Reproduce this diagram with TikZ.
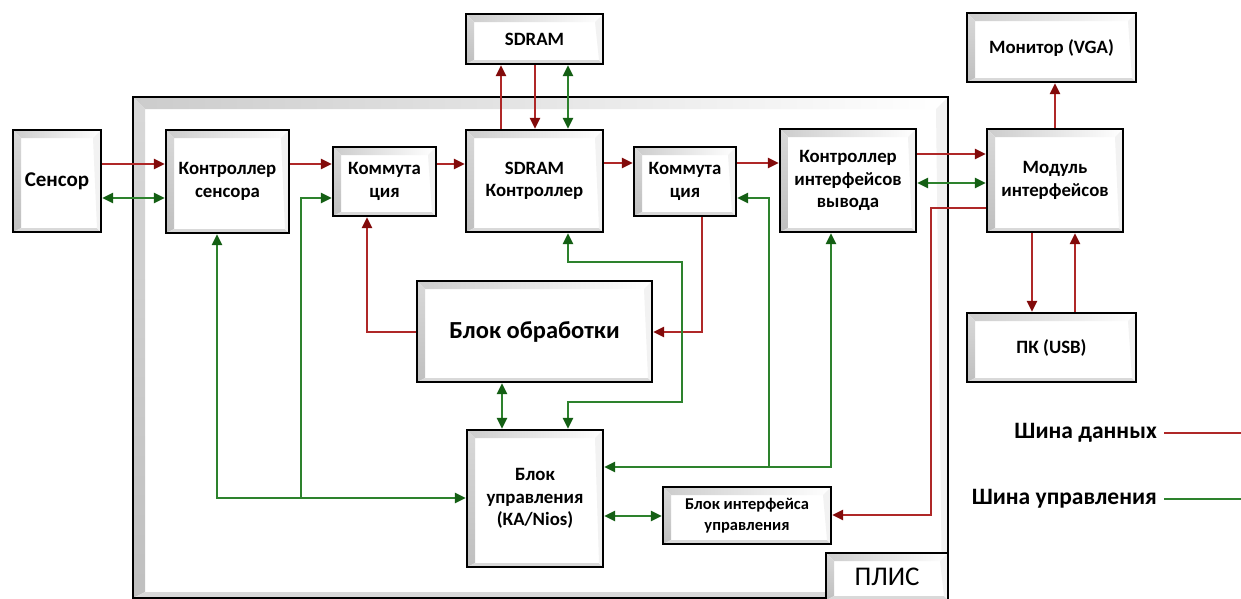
\documentclass[tikz,border=0pt]{standalone}
\usepackage{fontspec}
\setmainfont{Carlito}
\usetikzlibrary{arrows.meta}
\definecolor{lnR}{RGB}{175,40,40}
\definecolor{arR}{RGB}{130,10,10}
\definecolor{lnG}{RGB}{45,130,45}
\definecolor{arG}{RGB}{20,95,20}
\tikzset{
 Rt/.tip={Triangle[length=11pt,width=10pt,color=arR]},
 Gt/.tip={Triangle[length=11pt,width=10pt,color=arG]},
 dat/.style={draw=lnR, line width=2.5pt},
 ctl/.style={draw=lnG, line width=2.5pt},
 blk/.style={draw=black, line width=2.2pt, inner sep=0pt, align=center},
 fA/.style={font=\bfseries\fontsize{18.8}{22.5}\selectfont},
 fS/.style={font=\bfseries\fontsize{21}{22}\selectfont},
 fB/.style={font=\bfseries\fontsize{24.5}{26}\selectfont},
 fC/.style={font=\bfseries\fontsize{16.5}{21}\selectfont},
 fP/.style={font=\fontsize{27}{28}\selectfont},
 lgd/.style={font=\bfseries\fontsize{23.5}{26}\selectfont, inner sep=0pt},
}
% bevel: depth x1 y1 x2 y2
\newcommand\bvl[5]{%
 \fill[white] (#2,#3) rectangle (#4,#5);
 \shade[left color=gray!40, right color=white] (#2,#3) -- (#4,#3) -- ({#4-#1},{#3+#1}) -- ({#2+#1},{#3+#1}) -- cycle;
 \shade[top color=gray!30, bottom color=gray!50] (#2,#3) -- ({#2+#1},{#3+#1}) -- ({#2+#1},{#5-#1/2}) -- (#2,#5) -- cycle;
 \fill[gray!30] (#2,#5) -- ({#2+#1},{#5-#1/2}) -- ({#4-#1/2},{#5-#1/2}) -- (#4,#5) -- cycle;
 \fill[gray!10] (#4,#3) -- (#4,#5) -- ({#4-#1/2},{#5-#1/2}) -- ({#4-#1},{#3+#1}) -- cycle;
}
% keys name x1 y1 x2 y2 text
\newcommand\mkbox[7]{%
 \bvl{8}{#3}{#4}{#5}{#6}
 \node[blk, #1, minimum width={#5-#3}, minimum height={#6-#4}] (#2) at ({(#3+#5)/2},{(#4+#6)/2}) {#7};
}
\begin{document}
\begin{tikzpicture}[x=1pt,y=-1pt]
\useasboundingbox[fill=white] (0,0) rectangle (1241,598);
% FPGA frame
\bvl{12}{133}{97}{948}{598}
\node[blk, minimum width=815, minimum height=501] (plis) at (540.5,347.5) {};
% blocks
\mkbox{fS}{sen}{13}{130}{101}{232}{Сенсор}
\mkbox{fA}{ksen}{166}{130}{289}{233}{Контроллер\\сенсора}
\mkbox{fA}{kom1}{333}{147}{436}{216}{Коммута\\ция}
\mkbox{fA}{sdram}{466}{14}{603}{64}{SDRAM}
\mkbox{fA}{sdc}{466}{130}{603}{232}{SDRAM\\Контроллер}
\mkbox{fA}{kom2}{634}{147}{736}{216}{Коммута\\ция}
\mkbox{fA}{kiv}{780}{129}{916}{232}{Контроллер\\интерфейсов\\вывода}
\mkbox{fA}{mod}{987}{129}{1123}{232}{Модуль\\интерфейсов}
\mkbox{fA}{mon}{967}{13}{1136}{82}{Монитор (VGA)}
\mkbox{fA}{pk}{967}{313}{1136}{382}{ПК (USB)}
\mkbox{fB}{obr}{417}{281}{652}{382}{Блок обработки}
\mkbox{fA}{bu}{467}{430}{603}{567}{Блок\\управления\\(КА/Nios)}
\mkbox{fC}{biu}{663}{487}{831}{544}{Блок интерфейса\\управления}
\mkbox{fP}{plisl}{826}{553}{948}{600}{ПЛИС}
% data bus
\draw[dat,-Rt] (sen.east |- 0,164) -- (ksen.west |- 0,164);
\draw[dat,-Rt] (ksen.east |- 0,164) -- (kom1.west |- 0,164);
\draw[dat,-Rt] (kom1.east |- 0,164) -- (sdc.west |- 0,164);
\draw[dat,-Rt] (sdc.east |- 0,163) -- (kom2.west |- 0,163);
\draw[dat,-Rt] (kom2.east |- 0,163) -- (kiv.west |- 0,163);
\draw[dat,-Rt] (kiv.east |- 0,154) -- (mod.west |- 0,154);
\draw[dat,-Rt] (mod.west |- 0,208) -- (931,208) -- (931,515) -- (biu.east |- 0,515);
\draw[dat,-Rt] (mod.north -| 1055,0) -- (mon.south -| 1055,0);
\draw[dat,-Rt] (mod.south -| 1032,0) -- (pk.north -| 1032,0);
\draw[dat,-Rt] (pk.north -| 1075,0) -- (mod.south -| 1075,0);
\draw[dat,-Rt] (sdc.north -| 501,0) -- (sdram.south -| 501,0);
\draw[dat,-Rt] (sdram.south -| 535,0) -- (sdc.north -| 535,0);
\draw[dat,-Rt] (kom2.south -| 702,0) |- (obr.east |- 0,332);
\draw[dat,-Rt] (obr.west |- 0,332) -| (kom1.south -| 367,0);
% control bus
\draw[ctl,Gt-Gt] (sen.east |- 0,198) -- (ksen.west |- 0,198);
\draw[ctl,Gt-Gt] (kiv.east |- 0,183) -- (mod.west |- 0,183);
\draw[ctl,Gt-Gt] (sdram.south -| 568,0) -- (sdc.north -| 568,0);
\coordinate (j1) at (301,498);
\draw[ctl,Gt-Gt] (ksen.south -| 217,0) |- (bu.west |- 0,498);
\draw[ctl,-Gt] (j1) |- (kom1.west |- 0,198);
\draw[ctl,Gt-Gt] (sdc.south -| 568,0) -- (568,262) -- (682,262) -- (682,402) -- (568,402) -- (bu.north -| 568,0);
\draw[ctl,Gt-Gt] (obr.south -| 502,0) -- (bu.north -| 502,0);
\coordinate (j2) at (769,467);
\draw[ctl,Gt-Gt] (bu.east |- 0,467) -| (kiv.south -| 831,0);
\draw[ctl,-Gt] (j2) |- (kom2.east |- 0,198);
\draw[ctl,Gt-Gt] (bu.east |- 0,516) -- (biu.west |- 0,516);
% legend
\node[lgd, anchor=east] (lg1) at (1157,433) {Шина данных};
\coordinate (lg1e) at (1241,433);
\draw[dat] ([xshift=7pt]lg1.east) -- (lg1e);
\node[lgd, anchor=east] (lg2) at (1157,499) {Шина управления};
\coordinate (lg2e) at (1241,499);
\draw[ctl] ([xshift=7pt]lg2.east) -- (lg2e);
\end{tikzpicture}
\end{document}
